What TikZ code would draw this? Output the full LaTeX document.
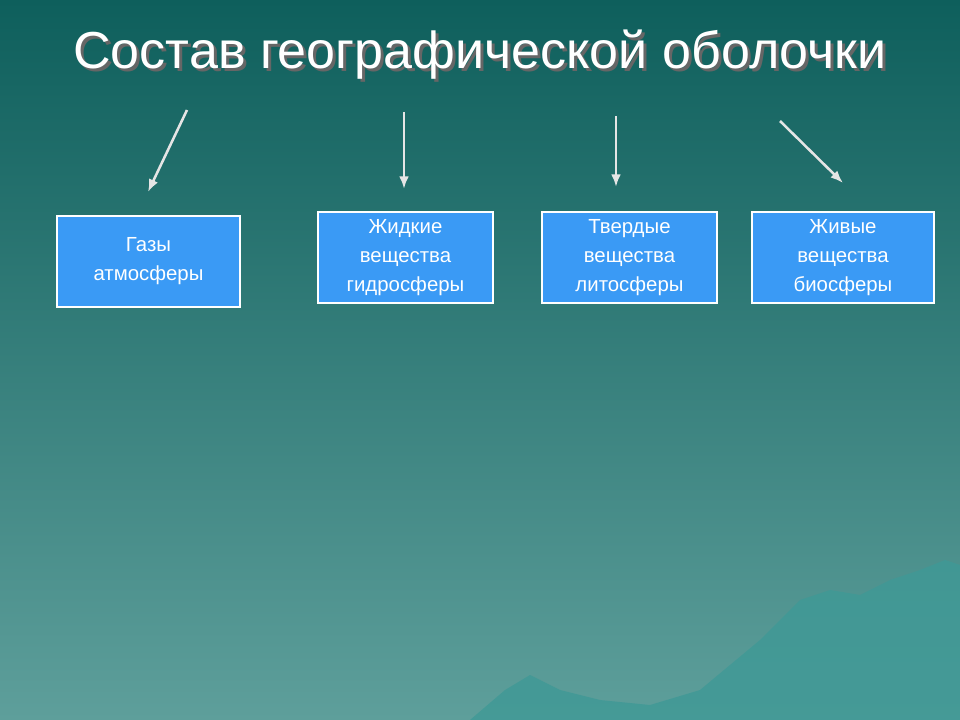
\documentclass[tikz,border=0pt]{standalone}
\usepackage{fontspec}
\setmainfont{Liberation Sans}
\definecolor{bgtop}{HTML}{0E5F5C}
\definecolor{bgbot}{HTML}{5E9F9B}
\definecolor{boxblue}{HTML}{3A9AF5}
\definecolor{hill}{HTML}{3F9996}
\tikzset{
  part/.style={draw=white, line width=1pt, fill=boxblue, text=white,
    font=\fontsize{14.5}{20.6}\selectfont, align=center, inner sep=0pt},
  pointer/.style={draw=white!80!gray, line width=1.8pt, -{Latex[length=9pt,width=7pt]}}
}
\usetikzlibrary{arrows.meta}
\begin{document}
\begin{tikzpicture}[x=0.025cm, y=-0.025cm]
            % Background
            \shade[top color=bgtop, bottom color=bgbot] (0,0) rectangle (960,720);
            \fill[hill, opacity=0.8] (470,720) -- (505,690) -- (530,675) -- (560,690) -- (600,700)
              -- (650,705) -- (700,690) -- (760,640) -- (800,600) -- (830,590) -- (860,595)
              -- (890,580) -- (920,570) -- (945,560) -- (960,565) -- (960,720) -- cycle;

            % Title
            \node[text=black!60, font=\fontsize{37}{40}\selectfont] at (483,58) {Состав географической оболочки};
            \node[text=white, font=\fontsize{37}{40}\selectfont] (title) at (480,55) {Состав географической оболочки};

            % Boxes
            \node[part, minimum width=183*0.025cm, minimum height=91*0.025cm] (gas) at (148.5,261.5) {Газы\\атмосферы};
            \node[part, minimum width=175*0.025cm, minimum height=91*0.025cm] (water) at (405.5,257.5) {Жидкие\\вещества\\гидросферы};
            \node[part, minimum width=175*0.025cm, minimum height=91*0.025cm] (rock) at (629.5,257.5) {Твердые\\вещества\\литосферы};
            \node[part, minimum width=182*0.025cm, minimum height=91*0.025cm] (life) at (843,257.5) {Живые\\вещества\\биосферы};

            % Arrows
            \coordinate (a1) at (187,110); \coordinate (b1) at (148,192);
            \coordinate (a2) at (404,112); \coordinate (b2) at (404,189);
            \coordinate (a3) at (616,116); \coordinate (b3) at (616,187);
            \coordinate (a4) at (780,121); \coordinate (b4) at (843,183);
            \draw[pointer] (a1) -- (b1);
            \draw[pointer] (a2) -- (b2);
            \draw[pointer] (a3) -- (b3);
            \draw[pointer] (a4) -- (b4);
\end{tikzpicture}
\end{document}
